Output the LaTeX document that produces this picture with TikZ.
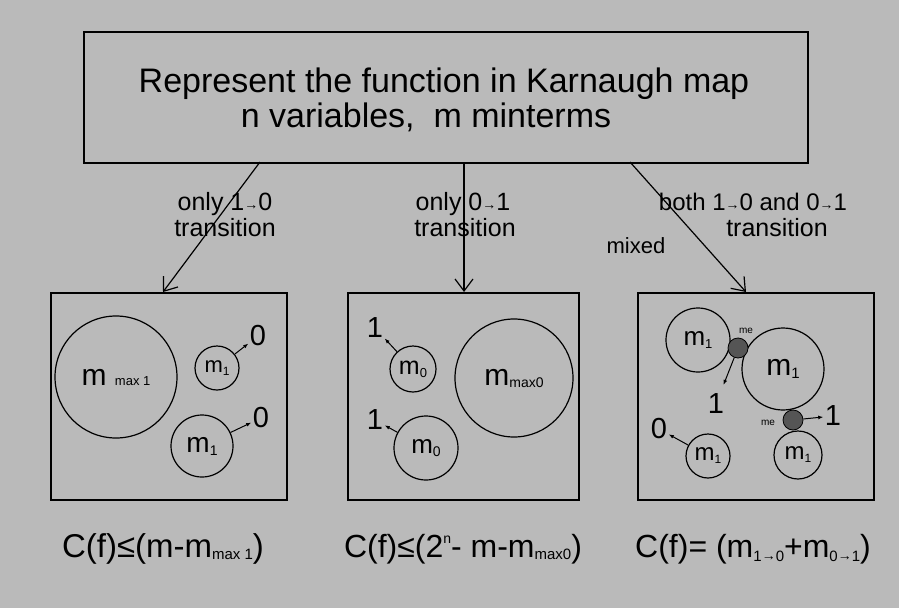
\documentclass[tikz,border=0pt]{standalone}
\usepackage{fontspec}
\setmainfont{Liberation Sans}
\usetikzlibrary{arrows.meta}
\definecolor{bg}{RGB}{186,186,186}
\definecolor{dk}{RGB}{85,85,85}
\newcommand\fs[1]{\fontsize{#1}{#1}\selectfont}
\newcommand\lo[3]{\raisebox{-#1pt}{\fs{#2}#3}}
\newcommand\mm[3]{{\fs{#1}m\lo{3}{#2}{#3}}}
\newcommand\ar{\raisebox{1pt}{\fs{14}→}}
\begin{document}
\begin{tikzpicture}[x=1pt,y=-1pt,
  frame/.style={draw=black, line width=1.6pt, inner sep=0pt, anchor=north west},
  ring/.style={circle, draw=black, line width=1.2pt, inner sep=0pt},
  dot/.style={circle, draw=black, fill=dk, line width=0.8pt, inner sep=0pt, minimum size=20pt},
  lbl/.style={inner sep=1pt, anchor=base},
  num/.style={inner sep=1.5pt, font=\fs{29}},
  arr/.style={-{Straight Barb[length=12pt,width=18pt,line width=1.2pt]}, line width=1.2pt},
  tip/.style={-{Latex[length=5pt,width=4pt]}, line width=1pt},
  tiny/.style={inner sep=0pt, font=\fs{10}}
]
\fill[bg] (0,0) rectangle (899,608);
\useasboundingbox (0,0) rectangle (899,608);

% top box
\node[frame, minimum width=724pt, minimum height=131pt] (top) at (83,31) {};
\node[lbl, inner sep=0pt] (t1) at (444,92) {\fs{34}Represent the function in Karnaugh map};
\node[lbl, inner sep=0pt] (t2) at (426,127) {\fs{34}n variables,\ \ m minterms};

% bottom boxes
\node[frame, minimum width=236pt, minimum height=207pt] (b1) at (50,292) {};
\node[frame, minimum width=231pt, minimum height=207pt] (b2) at (347,292) {};
\node[frame, minimum width=236pt, minimum height=207pt] (b3) at (637,292) {};

% connector end points
\coordinate (s1) at (260,162);
\coordinate (s2) at (464,162);
\coordinate (s3) at (630,162);
\coordinate (e1) at (163,292);
\coordinate (e2) at (464,292);
\coordinate (e3) at (746,292);
\draw[arr] (s1) -- (e1);
\draw[arr] (s2) -- (e2);
\draw[arr] (s3) -- (e3);

% transition labels
\node[lbl] (l1a) at (225,210) {\fs{25}only 1\ar0};
\node[lbl] (l1b) at (225,236) {\fs{25}transition};
\node[lbl] (l2a) at (463,210) {\fs{25}only 0\ar1};
\node[lbl] (l2b) at (465,236) {\fs{25}transition};
\node[lbl] (l3a) at (753,210) {\fs{24}both 1\ar0 and 0\ar1};
\node[lbl] (l3b) at (777,236) {\fs{25}transition};
\node[lbl] (mx) at (636,253) {\fs{22}mixed};

% left box content
\node[ring, minimum size=122pt] (c1) at (116,377) {\fs{30}m\ \fs{13}max 1};
\node[ring, minimum size=44pt] (c2) at (217,368) {\mm{22}{12}{1}};
\node[num] (z1) at (258,336) {0};
\node[ring, minimum size=62pt] (c3) at (202,446) {\mm{28}{14}{1}};
\node[num] (z2) at (261,418) {0};
\draw[tip] (c2) -- (z1);
\draw[tip] (c3) -- (z2);

% middle box content
\node[num] (o1) at (375,328) {1};
\node[ring, minimum size=46pt] (d1) at (413,369) {\mm{25}{13}{0}};
\node[num] (o2) at (375,420) {1};
\node[ring, minimum size=64pt] (d2) at (426,448) {\mm{26}{14}{0}};
\node[ring, minimum size=118pt] (d3) at (514,378) {\fs{30}m\lo{2}{14}{max0}};
\draw[tip] (d1) -- (o1);
\draw[tip] (d2) -- (o2);

% right box content
\node[ring, minimum size=64pt] (r1) at (698,340) {\mm{26}{13}{1}};
\node[ring, minimum size=82pt] (r2) at (783,369) {\mm{30}{15}{1}};
\node[dot] (g1) at (738,348) {};
\node[tiny] (me1) at (746,331) {me};
\node[num] (o3) at (716,404) {1};
\draw[tip, shorten >=8pt] (g1) -- (o3);
\node[num] (z3) at (659,429) {0};
\node[ring, minimum size=44pt] (r3) at (708,456) {\mm{24}{12}{1}};
\draw[tip] (r3) -- (z3);
\node[dot] (g2) at (793,420) {};
\node[tiny] (me2) at (768,423) {me};
\node[num] (o4) at (833,416) {1};
\draw[tip] (g2) -- (o4);
\node[ring, minimum size=48pt] (r4) at (798,455) {\mm{24}{12}{1}};

% formulas
\node[lbl] (f1) at (163,557) {\fs{33}C(f)≤(m-m\lo{2}{15}{max 1})};
\node[lbl] (f2) at (463,557) {\fs{32}C(f)≤(2\raisebox{14pt}{\fs{14}n}- m-m\lo{2}{15}{max0})};
\node[lbl] (f3) at (753,557) {\fs{32}C(f)= (m\lo{4}{15}{1\ar0}+m\lo{4}{15}{0\ar1})};
\end{tikzpicture}
\end{document}
